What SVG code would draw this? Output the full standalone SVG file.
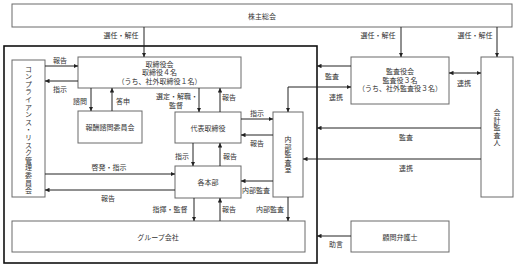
<svg xmlns="http://www.w3.org/2000/svg" width="516" height="267" viewBox="0 0 516 267">
<style>
.box{fill:#fff;stroke:#6a6a6a;stroke-width:1}
.outer{fill:none;stroke:#111;stroke-width:1.6}
.t{font-family:"Noto Sans CJK JP","Noto Sans CJK SC",sans-serif;font-size:7px;fill:#333;text-anchor:middle;dominant-baseline:central}
.v{font-family:"Noto Sans CJK JP","Noto Sans CJK SC",sans-serif;font-size:7px;fill:#333;text-anchor:middle;writing-mode:vertical-rl;text-orientation:upright}
.c{fill:none;stroke:#222;stroke-width:1}
</style>
<defs>
<marker id="a" viewBox="0 0 10 10" refX="10" refY="5" markerWidth="4.5" markerHeight="4.5" markerUnits="userSpaceOnUse" orient="auto-start-reverse"><path d="M0,0 L10,5 L0,10 z" fill="#222"/></marker>
</defs>
<rect class="outer" x="4" y="46" width="313" height="217"/>
<g id="shareholders"><rect class="box" x="12" y="4" width="500" height="23"/><text class="t" x="262" y="15.5">株主総会</text></g>
<g id="board"><rect class="box" x="78" y="57" width="163" height="31"/><text class="t" x="159.5" y="63.5">取締役会</text><text class="t" x="159.5" y="72">取締役４名</text><text class="t" x="159.5" y="80.5">（うち、社外取締役１名）</text></g>
<g id="compliance"><rect class="box" x="12" y="60" width="33" height="137"/><text class="v" x="28.5" y="130" letter-spacing="0.6">コンプライアンス・リスク管理委員会</text></g>
<g id="remuneration"><rect class="box" x="78" y="111" width="64" height="32"/><text class="t" x="110" y="127">報酬諮問委員会</text></g>
<g id="ceo"><rect class="box" x="175" y="112" width="66" height="31"/><text class="t" x="208" y="127.5">代表取締役</text></g>
<g id="divisions"><rect class="box" x="175" y="166" width="66" height="32"/><text class="t" x="208" y="182">各本部</text></g>
<g id="internal-audit"><rect class="box" x="273" y="112" width="30" height="85"/><text class="v" x="288" y="155" letter-spacing="0.5">内部監査室</text></g>
<g id="group"><rect class="box" x="12" y="221" width="293" height="31"/><text class="t" x="158" y="236.5">グループ会社</text></g>
<g id="auditors-board"><rect class="box" x="351" y="57" width="98" height="47"/><text class="t" x="400" y="71">監査役会</text><text class="t" x="400" y="79.5">監査役３名</text><text class="t" x="400" y="88">（うち、社外監査役３名）</text></g>
<g id="accounting-auditor"><rect class="box" x="481" y="57" width="32" height="140"/><text class="v" x="497" y="128" letter-spacing="0.5">会計監査人</text></g>
<g id="lawyer"><rect class="box" x="351" y="221" width="98" height="31"/><text class="t" x="400" y="236.5">顧問弁護士</text></g>
<g id="connectors">
<path class="c" d="M144,27 V57" marker-end="url(#a)"/><text class="t" x="121" y="34.5">選任・解任</text>
<path class="c" d="M401,27 V57" marker-end="url(#a)"/><text class="t" x="378" y="34.5">選任・解任</text>
<path class="c" d="M497,27 V57" marker-end="url(#a)"/><text class="t" x="475" y="34.5">選任・解任</text>
<path class="c" d="M45,66 H78" marker-end="url(#a)"/><text class="t" x="60" y="60">報告</text>
<path class="c" d="M78,81 H45" marker-end="url(#a)"/><text class="t" x="60" y="88.5">指示</text>
<path class="c" d="M91,88 V111" marker-end="url(#a)"/><text class="t" x="80" y="101">諮問</text>
<path class="c" d="M112,111 V88" marker-end="url(#a)"/><text class="t" x="123" y="101">答申</text>
<path class="c" d="M199,88 V112" marker-end="url(#a)"/><text class="t" x="177" y="96">選定・解職・</text><text class="t" x="176" y="105">監督</text>
<path class="c" d="M220,112 V88" marker-end="url(#a)"/><text class="t" x="229" y="97">報告</text>
<path class="c" d="M241,119 H273" marker-end="url(#a)"/><text class="t" x="257" y="113">指示</text>
<path class="c" d="M273,135 H241" marker-end="url(#a)"/><text class="t" x="257" y="143">報告</text>
<path class="c" d="M193,143 V166" marker-end="url(#a)"/><text class="t" x="182" y="156">指示</text>
<path class="c" d="M220,166 V143" marker-end="url(#a)"/><text class="t" x="230" y="156">報告</text>
<path class="c" d="M45,174 H175" marker-end="url(#a)"/><text class="t" x="109" y="167">啓発・指示</text>
<path class="c" d="M175,190 H45" marker-end="url(#a)"/><text class="t" x="108" y="198">報告</text>
<path class="c" d="M273,181 H241" marker-end="url(#a)"/><text class="t" x="256" y="190">内部監査</text>
<path class="c" d="M194,198 V221" marker-end="url(#a)"/><text class="t" x="170" y="209">指揮・監督</text>
<path class="c" d="M220,221 V198" marker-end="url(#a)"/><text class="t" x="229" y="209">報告</text>
<path class="c" d="M288,197 V221" marker-end="url(#a)"/><text class="t" x="270" y="209">内部監査</text>
<path class="c" d="M351,236 H317" marker-end="url(#a)"/><text class="t" x="336" y="244">助言</text>
<path class="c" d="M351,66 H317" marker-end="url(#a)"/><text class="t" x="332" y="76">監査</text>
<path class="c" d="M351,87 H288 V112" marker-start="url(#a)" marker-end="url(#a)"/><text class="t" x="336" y="96.5">連携</text>
<path class="c" d="M449,73 H481" marker-start="url(#a)" marker-end="url(#a)"/><text class="t" x="464" y="83">連携</text>
<path class="c" d="M481,128 H317" marker-end="url(#a)"/><text class="t" x="406" y="137">監査</text>
<path class="c" d="M481,159 H303" marker-end="url(#a)"/><text class="t" x="406" y="168">連携</text>
</g>
</svg>
